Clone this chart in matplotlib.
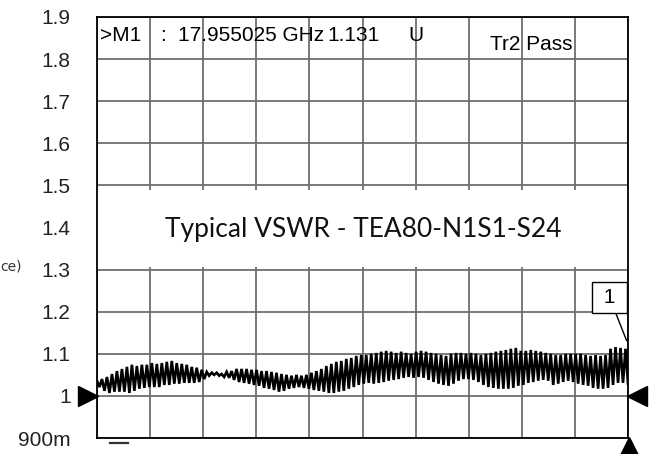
import matplotlib
matplotlib.use("Agg")
import matplotlib.pyplot as plt
import matplotlib.transforms as mtransforms
import numpy as np

# sweep / scale
start_ghz, stop_ghz = 0.0, 18.0
y_min, y_max = 0.9, 1.9
ytick_vals = [0.9, 1.0, 1.1, 1.2, 1.3, 1.4, 1.5, 1.6, 1.7, 1.8, 1.9]
ytick_labels = ["900m", "1", "1.1", "1.2", "1.3", "1.4", "1.5", "1.6", "1.7", "1.8", "1.9"]

# ripple peaks and troughs, left to right
ripple_top = [
    1.036, 1.040, 1.045, 1.052, 1.059, 1.064, 1.069, 1.074, 1.071, 1.074, 1.074, 1.078, 1.076, 1.078, 1.081, 1.083, 1.078, 1.076, 1.074,
    1.069, 1.067, 1.062, 1.057, 1.055, 1.055, 1.052, 1.057, 1.059, 1.064, 1.064, 1.064, 1.062, 1.062, 1.059, 1.059, 1.057, 1.055,
    1.052, 1.050, 1.048, 1.050, 1.048, 1.050, 1.055, 1.059, 1.064, 1.071, 1.076, 1.081, 1.083, 1.088, 1.090, 1.095, 1.097, 1.097,
    1.100, 1.102, 1.105, 1.107, 1.105, 1.102, 1.105, 1.102, 1.100, 1.105, 1.107, 1.105, 1.102, 1.100, 1.097, 1.095, 1.100, 1.102,
    1.102, 1.100, 1.102, 1.100, 1.097, 1.100, 1.102, 1.105, 1.107, 1.109, 1.112, 1.114, 1.107, 1.107, 1.109, 1.107, 1.105, 1.102,
    1.100, 1.097, 1.097, 1.100, 1.100, 1.100, 1.100, 1.097, 1.095, 1.097, 1.095, 1.097, 1.112, 1.116, 1.114, 1.112,
]
ripple_bot = [
    1.021, 1.012, 1.007, 1.010, 1.010, 1.010, 1.007, 1.012, 1.017, 1.019, 1.021, 1.021, 1.021, 1.026, 1.026, 1.029, 1.029, 1.031, 1.031,
    1.031, 1.033, 1.040, 1.048, 1.050, 1.048, 1.045, 1.043, 1.038, 1.033, 1.031, 1.029, 1.026, 1.024, 1.019, 1.017, 1.014, 1.010,
    1.012, 1.017, 1.019, 1.021, 1.019, 1.017, 1.014, 1.012, 1.010, 1.007, 1.007, 1.010, 1.012, 1.017, 1.021, 1.026, 1.029, 1.031,
    1.029, 1.031, 1.033, 1.036, 1.038, 1.040, 1.043, 1.045, 1.043, 1.045, 1.043, 1.038, 1.033, 1.029, 1.026, 1.024, 1.029, 1.036,
    1.040, 1.040, 1.038, 1.033, 1.026, 1.021, 1.019, 1.017, 1.017, 1.017, 1.019, 1.024, 1.026, 1.031, 1.033, 1.036, 1.038, 1.036,
    1.026, 1.029, 1.033, 1.036, 1.033, 1.029, 1.026, 1.024, 1.019, 1.017, 1.017, 1.019, 1.026, 1.031, 1.031, 1.029,
]

ref_level = 1.0
m1_freq, m1_vswr = 17.955025, 1.131
header = [(">M1", 0.005), (":", 0.118), ("17.955025 GHz", 0.152), ("1.131", 0.434), ("U", 0.586)]
title_text = "Typical VSWR - TEA80-N1S1-S24"

fig = plt.figure(figsize=(6.5, 4.54), dpi=100)
ax = fig.add_axes([97 / 650, 16 / 454, 531 / 650, 421 / 454])

# interleave peaks and troughs along the sweep
vswr = np.empty(2 * len(ripple_top))
vswr[0::2] = ripple_top
vswr[1::2] = ripple_bot
freq = np.linspace(start_ghz, stop_ghz, len(vswr))
ax.plot(freq, vswr, color="black", lw=1.9, zorder=3, solid_joinstyle="miter")

ax.set_xlim(start_ghz, stop_ghz)
ax.set_ylim(y_min, y_max)
ax.set_xticks(np.linspace(start_ghz, stop_ghz, 11))
ax.set_yticks(ytick_vals)
ax.set_yticklabels(ytick_labels, fontsize=15, color="#222222", family="Liberation Sans")
ax.set_xticklabels([])
ax.tick_params(length=0, pad=19)
ax.grid(True, color="#6e6e6e", lw=1.3)
ax.set_axisbelow(True)
for s in ax.spines.values():
    s.set_color("black")
    s.set_linewidth(1.3)

# white band holding the title
ax.axhspan(1.305, 1.489, color="white", zorder=1, lw=0)
ax.text(0.502, 0.495, title_text, transform=ax.transAxes, ha="center", va="center",
        fontsize=19, family="Lato", weight="normal", color="#111111", zorder=4)

# header line
for txt, xa in header:
    ax.text(xa, 0.955, txt, transform=ax.transAxes, ha="left", va="center",
            fontsize=15, family="Liberation Sans", color="black", zorder=4)
ax.text(0.74, 0.935, "Tr2 Pass", transform=ax.transAxes, ha="left", va="center",
        fontsize=15, family="Liberation Sans", color="black", zorder=4)

# reference level arrows and marker
px = lambda dx, dy: mtransforms.ScaledTranslation(dx / 100, dy / 100, fig.dpi_scale_trans)
ax.plot([start_ghz], [ref_level], marker=">", ms=14, color="black", clip_on=False,
        transform=ax.transData + px(-9, 0), zorder=5)
ax.plot([stop_ghz], [ref_level], marker="<", ms=14, color="black", clip_on=False,
        transform=ax.transData + px(9, 0), zorder=5)
ax.plot([m1_freq], [y_min], marker="^", ms=14, color="black", clip_on=False,
        transform=ax.transData + px(2, -9), zorder=5)
ax.annotate(" 1 ", xy=(m1_freq, m1_vswr), xytext=(-17, 43), textcoords="offset pixels",
            ha="center", va="center", fontsize=15, family="Liberation Sans",
            bbox=dict(boxstyle="square,pad=0.3", fc="white", ec="black", lw=1.0),
            arrowprops=dict(arrowstyle="-", color="black", lw=1.0,
                            shrinkA=0, shrinkB=0), zorder=5)

# small left-edge leftovers of the screenshot
fig.text(0.0, 1 - 266 / 454, "ce)", fontsize=10, color="#333333", va="center", ha="left")
fig.add_artist(plt.Line2D([110 / 650, 128 / 650], [1 - 443 / 454, 1 - 443 / 454],
                          color="#333333", lw=1.6))

fig.savefig("out.png", dpi=100)
